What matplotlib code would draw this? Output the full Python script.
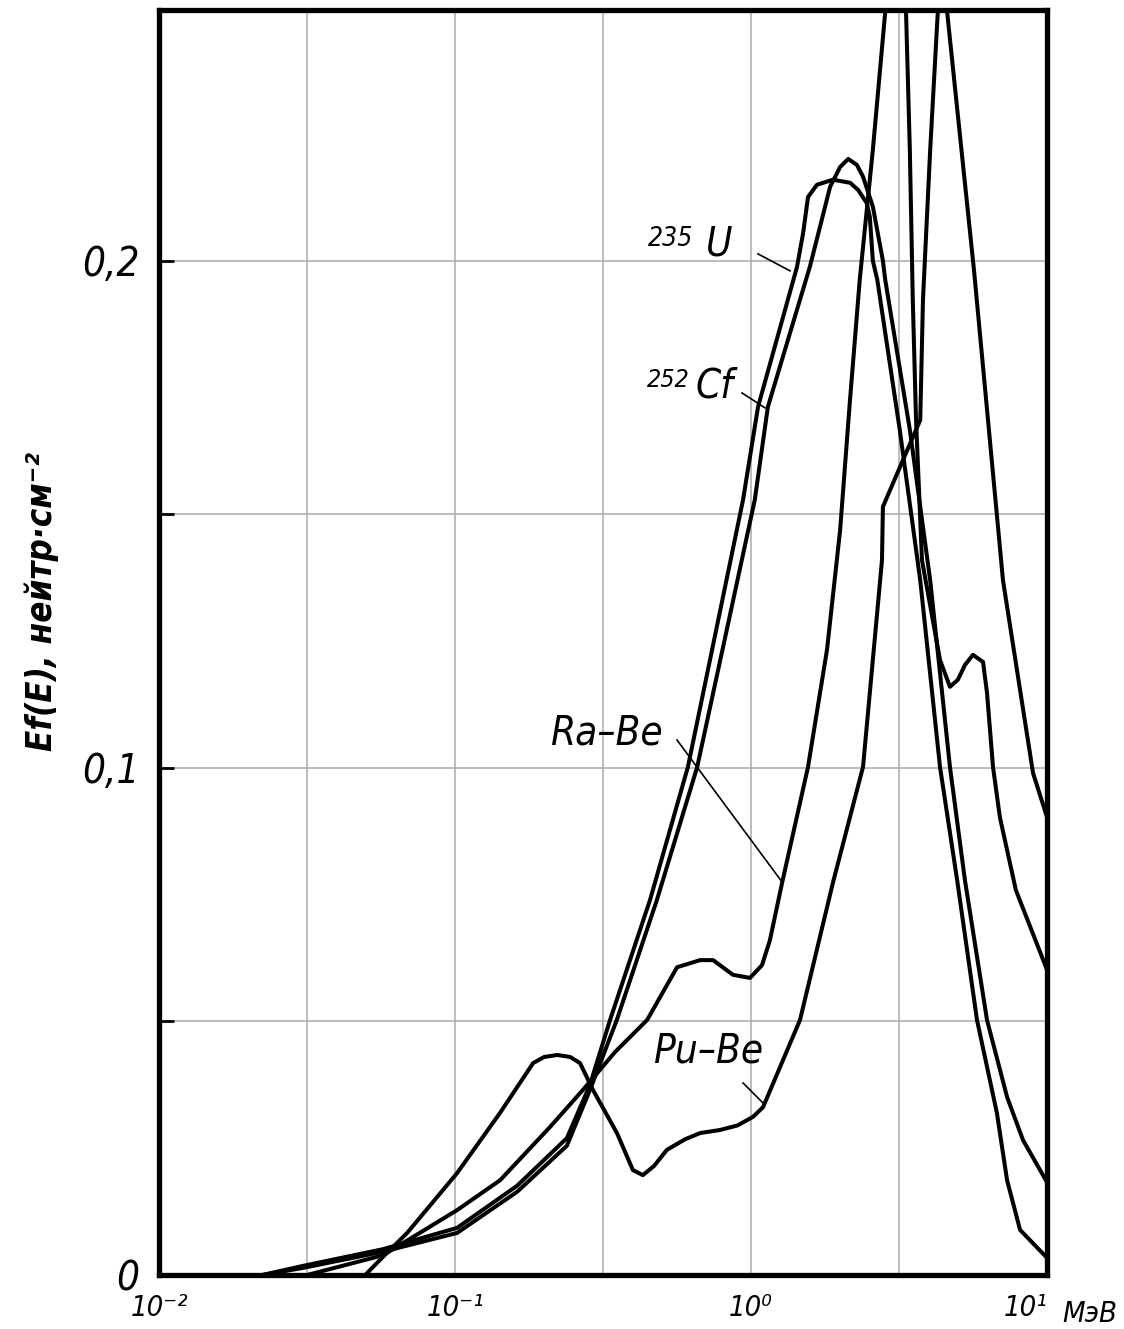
import matplotlib
matplotlib.use("Agg")
import matplotlib.pyplot as plt
from matplotlib.ticker import NullLocator

# Neutron spectra Ef(E); energies in MeV
U235_E = [0.0223, 0.0306, 0.0571, 0.1016, 0.162, 0.2387, 0.2856, 0.334, 0.456, 0.612,
          0.94, 1.056, 1.43, 1.50, 1.558, 1.67, 1.89, 2.16, 2.30, 2.46, 2.52, 2.58,
          2.67, 3.18, 3.73, 4.35, 4.97, 5.80, 6.77, 7.33, 8.11, 10.0]
U235_F = [0.0, 0.0018, 0.0051, 0.0093, 0.0176, 0.0270, 0.0375, 0.0503, 0.0740, 0.1002,
          0.1529, 0.1712, 0.1988, 0.2055, 0.2126, 0.2150, 0.2160, 0.2154, 0.2140, 0.2114, 0.2087, 0.2000,
          0.1963, 0.1667, 0.1370, 0.1002, 0.0779, 0.0503, 0.0320, 0.0187, 0.0089, 0.0034]

CF252_E = [0.0223, 0.0306, 0.0571, 0.1016, 0.162, 0.2387, 0.2856, 0.352, 0.481, 0.658,
           1.03, 1.14, 1.58, 1.71, 1.85, 2.0, 2.13, 2.28, 2.39, 2.58, 2.79, 2.84,
           3.44, 4.03, 4.70, 5.28, 6.27, 7.33, 8.30, 10.0]
CF252_F = [0.0, 0.0014, 0.0046, 0.0083, 0.0164, 0.0255, 0.0365, 0.0503, 0.0740, 0.1002,
           0.1529, 0.1712, 0.1988, 0.2067, 0.2146, 0.2185, 0.2201, 0.2189, 0.2166, 0.2107, 0.2000, 0.1963,
           0.1667, 0.1370, 0.1002, 0.0779, 0.0503, 0.0351, 0.0266, 0.0183]

RABE_E = [0.0316, 0.0571, 0.1016, 0.142, 0.2094, 0.2704, 0.3475, 0.4457, 0.5625, 0.673,
          0.745, 0.869, 0.992, 1.089, 1.158, 1.273, 1.558, 1.806, 2.0, 2.16, 2.33, 2.58,
          2.84, 3.09, 3.34, 3.44, 3.52, 3.61, 3.78, 4.35, 4.70, 5.0, 5.28, 5.62, 6.08,
          6.27, 6.57, 6.93, 7.85, 10.0]
RABE_F = [0.0, 0.0039, 0.0128, 0.0187, 0.0292, 0.0365, 0.0440, 0.0503, 0.0607, 0.0621,
          0.0621, 0.0592, 0.0586, 0.0611, 0.0660, 0.0773, 0.1002, 0.1233, 0.1469, 0.1726, 0.1963, 0.2219,
          0.2490, 0.2620, 0.2490, 0.2219, 0.1923, 0.1686, 0.1410, 0.1213, 0.1160, 0.1174, 0.1203, 0.1223, 0.1209,
          0.1148, 0.1002, 0.0903, 0.0759, 0.0602]

PUBE_E = [0.0497, 0.0571, 0.0689, 0.1016, 0.142, 0.1836, 0.200, 0.2213, 0.245, 0.2644, 0.2924, 0.3524,
          0.399, 0.431, 0.47, 0.52, 0.60, 0.673, 0.785, 0.90, 1.016, 1.098, 1.464, 1.89, 2.39, 2.77, 2.79,
          3.26, 3.73, 3.81, 4.03, 4.28, 4.45, 4.59, 5.67, 7.10, 8.97, 10.0]
PUBE_F = [0.0, 0.0036, 0.0083, 0.0201, 0.0320, 0.0418, 0.0430, 0.0434, 0.0430, 0.0418, 0.0365, 0.0280,
          0.0207, 0.0197, 0.0215, 0.0247, 0.0268, 0.0280, 0.0286, 0.0295, 0.0312, 0.0331, 0.0503, 0.0773,
          0.1002, 0.1410, 0.1515,
          0.1607, 0.1686, 0.1923, 0.2219, 0.2495, 0.2620, 0.2495, 0.1980, 0.1370, 0.0990, 0.0903]

X_TICKS = [1e-2, 10 ** -1.5, 1e-1, 10 ** -0.5, 1.0, 10 ** 0.5, 10.0]
X_TICK_LABELS = ["10⁻²", "", "10⁻¹", "", "10⁰", "", "10¹"]
Y_TICKS = [0.0, 0.05, 0.1, 0.15, 0.2]
Y_TICK_LABELS = ["0", "", "0,1", "", "0,2"]

plt.rcParams["font.family"] = "DejaVu Sans"
plt.rcParams["font.stretch"] = "condensed"

fig = plt.figure(figsize=(11.24, 13.29), dpi=100)
ax = fig.add_axes([0.1415, 0.0406, 0.79, 0.952])

for energy, flux in [(U235_E, U235_F), (CF252_E, CF252_F), (RABE_E, RABE_F), (PUBE_E, PUBE_F)]:
    ax.plot(energy, flux, color="black", linewidth=2.9,
            solid_joinstyle="round", solid_capstyle="round", zorder=3)

ax.set_xscale("log")
ax.set_xlim(1e-2, 10)
ax.set_ylim(0, 0.2495)
ax.set_xticks(X_TICKS)
ax.set_xticklabels(X_TICK_LABELS)
ax.xaxis.set_minor_locator(NullLocator())
ax.set_yticks(Y_TICKS)
ax.set_yticklabels(Y_TICK_LABELS)

ax.tick_params(axis="x", length=0, pad=14, labelsize=21)
ax.tick_params(axis="y", direction="in", length=11, width=2, pad=14, labelsize=29)
for lab in ax.get_xticklabels() + ax.get_yticklabels():
    lab.set_style("italic")
ax.get_xticklabels()[-1].set_horizontalalignment("right")

ax.grid(True, color="#aaaaaa", linewidth=1.1, zorder=0)
for spine in ax.spines.values():
    spine.set_linewidth(3.8)
    spine.set_zorder(4)

fig.text(1062 / 1124, 1 - 1322 / 1329, "МэВ", style="italic", fontsize=21, va="baseline")
fig.text(42 / 1124, 1 - 602 / 1329, "Ef(E), нейтр·см⁻²", rotation=90, style="italic",
         fontweight="bold", fontsize=25, ha="center", va="center")

# curve labels with leader lines (axes fraction coordinates)
label_kw = dict(transform=ax.transAxes, style="italic", va="baseline", ha="left")
ax.text(0.5507, 0.8134, "235", fontsize=19, **label_kw)
ax.text(0.6160, 0.8055, "U", fontsize=29, **label_kw)
ax.text(0.5495, 0.7020, "252", fontsize=18, **label_kw)
ax.text(0.6036, 0.6933, "Cf", fontsize=29, **label_kw)
ax.text(0.4403, 0.4190, "Ra–Be", fontsize=29, **label_kw)
ax.text(0.5563, 0.1676, "Pu–Be", fontsize=29, **label_kw)

leaders = [
    ((0.6745, 0.8071), (0.7106, 0.7937)),
    ((0.6565, 0.6972), (0.6824, 0.6854)),
    ((0.5833, 0.4229), (0.7016, 0.3107)),
    ((0.6577, 0.1518), (0.6802, 0.1360)),
]
for (x0, y0), (x1, y1) in leaders:
    ax.plot([x0, x1], [y0, y1], transform=ax.transAxes, color="black", linewidth=1.2, zorder=3)

fig.savefig("out.png", dpi=100, facecolor="white")
